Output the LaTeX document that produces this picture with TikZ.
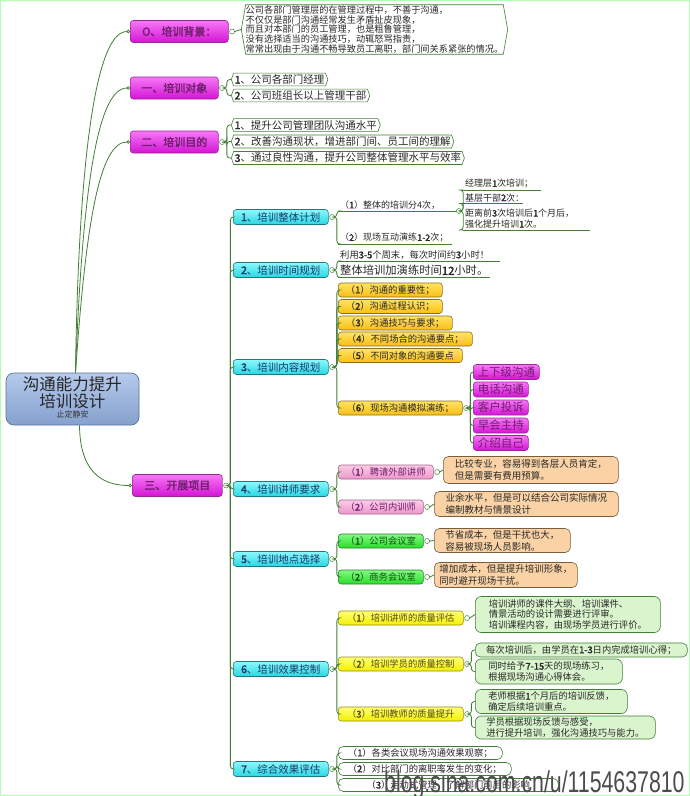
\documentclass[tikz,border=0pt]{standalone}
\usepackage{fontspec}
\setmainfont{Noto Sans CJK SC}[AutoFakeBold=2]
\newfontfamily\wmfont{Liberation Sans}
\usetikzlibrary{shapes.symbols,shapes.misc,arrows.meta}
\definecolor{lineg}{RGB}{64,128,52}
\definecolor{magT}{RGB}{246,120,246}
\definecolor{magB}{RGB}{212,20,212}
\definecolor{magD}{RGB}{150,40,150}
\definecolor{magTx}{RGB}{110,30,110}
\definecolor{cyT}{RGB}{140,248,252}
\definecolor{cyB}{RGB}{40,215,225}
\definecolor{cyD}{RGB}{30,120,130}
\definecolor{cyTx}{RGB}{25,55,110}
\definecolor{orT}{RGB}{255,228,100}
\definecolor{orB}{RGB}{250,190,20}
\definecolor{orD}{RGB}{140,110,30}
\definecolor{pkT}{RGB}{252,205,232}
\definecolor{pkB}{RGB}{236,150,202}
\definecolor{pkD}{RGB}{160,100,140}
\definecolor{grT}{RGB}{130,250,130}
\definecolor{grB}{RGB}{40,222,40}
\definecolor{grD}{RGB}{40,130,40}
\definecolor{ylT}{RGB}{255,255,120}
\definecolor{ylB}{RGB}{245,240,0}
\definecolor{ylD}{RGB}{150,140,30}
\definecolor{tanF}{RGB}{250,210,165}
\definecolor{tanD}{RGB}{120,95,60}
\definecolor{lgF}{RGB}{218,245,205}
\definecolor{rootT}{RGB}{182,202,236}
\definecolor{rootB}{RGB}{132,160,205}
\definecolor{rootD}{RGB}{90,115,150}
\definecolor{txt}{RGB}{40,40,40}
\newcommand{\bnum}[1]{{\bfseries #1}}
\tikzset{
  conn/.style={draw=lineg, line width=0.8pt},
  cend/.style={conn, -{Circle[open,length=3.5pt,width=3.5pt]}},
  dot/.style={circle, draw=lineg, fill=white, inner sep=0pt, minimum size=5pt, line width=0.5pt},
  bx/.style={anchor=west, rounded corners=3pt, inner sep=1pt, align=center, line width=0.6pt, text=txt},
  mainbox/.style={bx, draw=magD, top color=magT, bottom color=magB, text=magTx, minimum height=22pt, font=\fontsize{11}{12}\selectfont\bfseries},
  cybox/.style={bx, draw=cyD, top color=cyT, bottom color=cyB, text=cyTx, minimum height=15pt, font=\fontsize{10.5}{12}\selectfont},
  orbox/.style={bx, draw=orD, top color=orT, bottom color=orB, minimum height=14pt, font=\fontsize{9.3}{11}\selectfont},
  mgbox/.style={bx, draw=magD, top color=magT, bottom color=magB, text=magTx, minimum height=15pt, font=\fontsize{11.5}{12}\selectfont},
  pkbox/.style={bx, draw=pkD, top color=pkT, bottom color=pkB, text=magTx, minimum height=14pt, font=\fontsize{9.3}{11}\selectfont},
  grbox/.style={bx, draw=grD, top color=grT, bottom color=grB, text=grD!60!black, minimum height=14pt, font=\fontsize{9.3}{11}\selectfont},
  ylbox/.style={bx, draw=ylD, top color=ylT, bottom color=ylB, text=ylD!55!black, minimum height=14pt, font=\fontsize{9.3}{11}\selectfont},
  tanbox/.style={bx, draw=tanD, fill=tanF, rounded corners=5pt, align=left, inner xsep=5pt, font=\fontsize{9.5}{12}\selectfont},
  lgbox/.style={bx, draw=lineg, fill=lgF, rounded corners=6pt, align=left, inner xsep=6pt, font=\fontsize{9.3}{10.8}\selectfont},
  whbox/.style={bx, draw=lineg, fill=white, rounded corners=5pt, minimum height=13pt, font=\fontsize{9.3}{11}\selectfont},
  sig/.style={signal, signal to=west and east, signal pointer angle=140, draw=lineg, fill=white, anchor=west,
    inner xsep=1pt, inner ysep=1.5pt, line width=0.6pt, text=txt, font=\fontsize{10.5}{12}\selectfont},
  ul/.style={anchor=south west, inner xsep=2pt, inner ysep=1.5pt, align=left, text=txt, font=\fontsize{9}{11}\selectfont},
  rootbox/.style={draw=rootD, top color=rootT, bottom color=rootB, rounded corners=8pt, line width=0.7pt},
  kid/.style={conn, rounded corners=3pt}
}
\begin{document}
\begin{tikzpicture}[x=1pt,y=-1pt]
\useasboundingbox (0,0) rectangle (690,796);
\fill[white] (0,0) rectangle (690,796);
\draw[green!30, line width=1pt] (0.5,0.5) rectangle (689.5,795.5);

% root
\node[rootbox, minimum width=133pt, minimum height=52pt] (root) at (72.5,399) {};
\node[font=\fontsize{16.5}{17}\selectfont, align=center, text=black!85, inner sep=0pt] (roott) at (72.5,393) {沟通能力提升\\培训设计};
\node[font=\fontsize{8}{9}\selectfont, text=black!80, inner sep=0pt] (roots) at (72.5,414.5) {止定静安};

% main branches
\node[mainbox, minimum width=98pt] (b0) at (130,31.5) {O、培训背景：};
\node[mainbox, minimum width=88pt] (b1) at (130,88) {一、培训对象};
\node[mainbox, minimum width=88pt] (b2) at (130,142) {二、培训目的};
\node[mainbox, minimum width=90pt] (b3) at (132,485.5) {三、开展项目};
\foreach \n in {b0,b1,b2,b3} \node[dot] (\n d) at ([xshift=3.5pt]\n.east) {};

\draw[cend] ([xshift=3pt]root.north) .. controls (78,190) and (92,31.5) .. (b0.west);
\draw[cend] ([xshift=3pt]root.north) .. controls (82,200) and (96,88) .. (b1.west);
\draw[cend] ([xshift=3pt]root.north) .. controls (86,220) and (100,142) .. (b2.west);
\draw[cend] ([xshift=7pt]root.south) .. controls (80,470) and (100,485.5) .. (b3.west);

% 0 background
\node[sig, align=left, font=\fontsize{9.2}{9.7}\selectfont, signal pointer angle=160, inner xsep=0pt, inner ysep=1pt] (t0) at (241,29.5) {公司各部门管理层的在管理过程中，不善于沟通，\\不仅仅是部门沟通经常发生矛盾扯皮现象，\\而且对本部门的员工管理，也是粗鲁管理，\\没有选择适当的沟通技巧，动辄怒骂指责，\\常常出现由于沟通不畅导致员工离职，部门间关系紧张的情况。};
\draw[conn] (b0d.east) -- (t0.west);

% 1 target
\node[sig] (t1a) at (231,79.5) {\bnum{1}、公司各部门经理};
\node[sig] (t1b) at (231,95.5) {\bnum{2}、公司班组长以上管理干部};
\foreach \n in {t1a,t1b} \draw[kid] (b1d.east) -- ++(2,0) |- (\n.west);

% 2 purpose
\node[sig] (t2a) at (231,125) {\bnum{1}、提升公司管理团队沟通水平};
\node[sig] (t2b) at (231,141.5) {\bnum{2}、改善沟通现状，增进部门间、员工间的理解};
\node[sig] (t2c) at (231,158) {\bnum{3}、通过良性沟通，提升公司整体管理水平与效率};
\foreach \n in {t2a,t2b,t2c} \draw[kid] (b2d.east) -- ++(2,0) |- (\n.west);

% 3 projects: cyan level
\node[cybox, minimum width=95pt] (c1) at (233,217) {\bnum{1}、培训整体计划};
\node[cybox, minimum width=95pt] (c2) at (233,270) {\bnum{2}、培训时间规划};
\node[cybox, minimum width=95pt] (c3) at (233,367) {\bnum{3}、培训内容规划};
\node[cybox, minimum width=95pt] (c4) at (233,489) {\bnum{4}、培训讲师要求};
\node[cybox, minimum width=95pt] (c5) at (233,559) {\bnum{5}、培训地点选择};
\node[cybox, minimum width=95pt] (c6) at (233,669) {\bnum{6}、培训效果控制};
\node[cybox, minimum width=95pt] (c7) at (233,769) {\bnum{7}、综合效果评估};
\foreach \i in {1,...,7} {
  \node[dot] (c\i d) at ([xshift=3.5pt]c\i.east) {};
  \draw[kid] (b3d.east) -- ++(1.5,0) |- (c\i.west);
}

% 1 whole plan
\node[ul, text width=114pt] (k11) at (338,211) {（\bnum{1}）整体的培训分4次，};
\node[ul, text width=110pt] (k12) at (338,244) {（\bnum{2}）现场互动演练\bnum{1-2}次；};
\foreach \n in {k11,k12} {
  \draw[kid] (c1d.east) -- ++(2,0) |- (\n.south west);
  \draw[conn] (\n.south west) -- (\n.south east);
}
\node[dot] (k11d) at ([xshift=2.5pt]k11.south east) {};
\node[ul, text width=74pt] (k111) at (463,190) {经理层\bnum{1}次培训；};
\node[ul, text width=56pt] (k112) at (463,203.5) {基层干部\bnum{2}次：};
\node[ul, text width=123pt] (k113) at (463,230) {距离前\bnum{3}次培训后\bnum{1}个月后，\\强化提升培训\bnum{1}次。};
\foreach \n in {k111,k112,k113} {
  \draw[kid] (k11d.east) -- ++(1.5,0) |- (\n.south west);
  \draw[conn] (\n.south west) -- (\n.south east);
}

% 2 time plan
\node[ul, text width=158pt, font=\fontsize{9.3}{11}\selectfont] (k21) at (338,261) {利用\bnum{3-5}个周末，每次时间约\bnum{3}小时！};
\node[ul, text width=148pt, font=\fontsize{11.3}{13}\selectfont] (k22) at (338,277.5) {整体培训加演练时间\bnum{12}小时。};
\foreach \n in {k21,k22} {
  \draw[kid] (c2d.east) -- ++(2,0) |- (\n.south west);
  \draw[conn] (\n.south west) -- (\n.south east);
}

% 3 content
\node[orbox, minimum width=104pt] (k31) at (338,290) {（\bnum{1}）沟通的重要性；};
\node[orbox, minimum width=104pt] (k32) at (338,306.5) {（\bnum{2}）沟通过程认识；};
\node[orbox, minimum width=114pt] (k33) at (338,323) {（\bnum{3}）沟通技巧与要求；};
\node[orbox, minimum width=134pt] (k34) at (338,339) {（\bnum{4}）不同场合的沟通要点；};
\node[orbox, minimum width=124pt] (k35) at (338,355.5) {（\bnum{5}）不同对象的沟通要点};
\node[orbox, minimum width=124pt] (k36) at (338,408) {（\bnum{6}）现场沟通模拟演练；};
\foreach \n in {k31,k32,k33,k34,k35,k36} \draw[kid] (c3d.east) -- ++(2,0) |- (\n.west);
\node[dot] (k36d) at ([xshift=3.5pt]k36.east) {};
\node[mgbox, minimum width=66pt] (m1) at (473,372) {上下级沟通};
\node[mgbox, minimum width=55pt] (m2) at (473,389.5) {电话沟通};
\node[mgbox, minimum width=55pt] (m3) at (473,407.5) {客户投诉};
\node[mgbox, minimum width=55pt] (m4) at (473,425.5) {早会主持};
\node[mgbox, minimum width=55pt] (m5) at (473,443) {介绍自己};
\foreach \n in {m1,m2,m3,m4,m5} \draw[kid] (k36d.east) -- ++(1.5,0) |- (\n.west);

% 4 trainers
\node[pkbox, minimum width=95pt] (k41) at (338,472) {（\bnum{1}）聘请外部讲师};
\node[pkbox, minimum width=85pt] (k42) at (338,507) {（\bnum{2}）公司内训师};
\foreach \n in {k41,k42} {
  \draw[kid] (c4d.east) -- ++(2,0) |- (\n.west);
  \node[dot] (\n d) at ([xshift=3.5pt]\n.east) {};
}
\node[tanbox, minimum width=175pt, minimum height=27pt] (t41) at (443,470) {比较专业，容易得到各层人员肯定，\\但是需要有费用预算。};
\node[tanbox, minimum width=184pt, minimum height=25pt] (t42) at (434,504) {业余水平，但是可以结合公司实际情况\\编制教材与情景设计};
\draw[conn] (k41d.east) -- (t41.west);
\draw[conn] (k42d.east) -- (t42.west);

% 5 location
\node[grbox, minimum width=85pt] (k51) at (338,541) {（\bnum{1}）公司会议室};
\node[grbox, minimum width=85pt] (k52) at (338,577) {（\bnum{2}）商务会议室};
\foreach \n in {k51,k52} {
  \draw[kid] (c5d.east) -- ++(2,0) |- (\n.west);
  \node[dot] (\n d) at ([xshift=3.5pt]\n.east) {};
}
\node[tanbox, minimum width=136pt, minimum height=24pt] (t51) at (434,540.5) {节省成本，但是干扰也大，\\容易被现场人员影响。};
\node[tanbox, minimum width=143pt, minimum height=25pt] (t52) at (434,575) {增加成本，但是提升培训形象，\\同时避开现场干扰。};
\draw[conn] (k51d.east) -- (t51.west);
\draw[conn] (k52d.east) -- (t52.west);

% 6 quality control
\node[ylbox, minimum width=125pt] (k61) at (338,618) {（\bnum{1}）培训讲师的质量评估};
\node[ylbox, minimum width=125pt] (k62) at (338,664) {（\bnum{2}）培训学员的质量控制};
\node[ylbox, minimum width=125pt] (k63) at (338,714) {（\bnum{3}）培训教师的质量提升};
\foreach \n in {k61,k62,k63} {
  \draw[kid] (c6d.east) -- ++(2,0) |- (\n.west);
  \node[dot] (\n d) at ([xshift=3.5pt]\n.east) {};
}
\node[lgbox, minimum width=185pt, minimum height=36pt] (g61) at (475,614.5) {培训讲师的课件大纲、培训课件、\\情景活动的设计需要进行评审。\\培训课程内容，由现场学员进行评价。};
\node[lgbox, minimum width=212pt, minimum height=14pt, rounded corners=5pt] (g62a) at (475,650) {每次培训后，由学员在\bnum{1-3}日内完成培训心得；};
\node[lgbox, minimum width=147pt, minimum height=25pt] (g62b) at (475,671.5) {同时给予\bnum{7-15}天的现场练习，\\根据现场沟通心得体会。};
\node[lgbox, minimum width=152pt, minimum height=24pt] (g63a) at (475,701.5) {老师根据\bnum{1}个月后的培训反馈，\\确定后续培训重点。};
\node[lgbox, minimum width=180pt, minimum height=23pt] (g63b) at (475,727.5) {学员根据现场反馈与感受，\\进行提升培训，强化沟通技巧与能力。};
\draw[conn] (k61d.east) -- (g61.west);
\foreach \n in {g62a,g62b} \draw[kid] (k62d.east) -- ++(1.5,0) |- (\n.west);
\foreach \n in {g63a,g63b} \draw[kid] (k63d.east) -- ++(1.5,0) |- (\n.west);

% 7 evaluation
\node[whbox, minimum width=164pt] (k71) at (338,753) {（\bnum{1}）各类会议现场沟通效果观察；};
\node[whbox, minimum width=173pt] (k72) at (338,769) {（\bnum{2}）对比部门的离职率发生的变化；};
\node[whbox, minimum width=220pt] (k73) at (338,785) {（\bnum{3}）走动式管理，了解部门前后的影响};
\foreach \n in {k71,k72,k73} \draw[kid] (c7d.east) -- ++(2,0) |- (\n.west);

% watermark
\node[anchor=base west, inner sep=0pt, text=black!70, font=\wmfont\fontsize{30}{30}\selectfont] (wm) at (384,792.5) {\scalebox{0.71}[1]{blog.sina.com.cn/u/1154637810}};
\end{tikzpicture}
\end{document}
